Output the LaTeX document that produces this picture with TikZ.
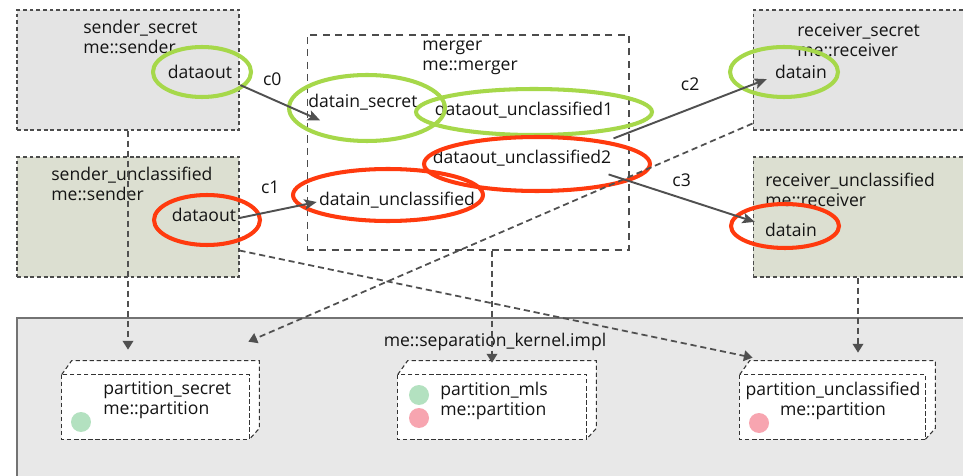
\documentclass[tikz,border=0pt]{standalone}
\usepackage{fontspec}
\setmainfont{Open Sans}
\usepackage{xcolor}
\usetikzlibrary{arrows.meta,calc,positioning,shapes.geometric}

\definecolor{secgray}{HTML}{E4E4E4}
\definecolor{uncgray}{HTML}{DCDFD1}
\definecolor{kerngray}{HTML}{E8E8E8}
\definecolor{wire}{HTML}{505050}
\definecolor{secgreen}{HTML}{A6D84A}
\definecolor{uncred}{HTML}{FF3A0E}
\definecolor{dotgreen}{HTML}{B3E1C0}
\definecolor{dotred}{HTML}{F7A5B0}

\tikzset{
  txt/.style={inner sep=0pt, font=\fontsize{10}{11.4}\selectfont, text=black!92, align=left},
  comp/.style={draw=black!70, dash pattern=on 2.2pt off 1.6pt, line width=0.6pt,
    minimum width=4.44cm, minimum height=2.4cm},
  ring/.style={ellipse, draw=#1, line width=2.3pt, inner sep=0pt},
  conn/.style={draw=wire, line width=1.1pt, -{Stealth[length=7pt,width=6pt,inset=1.5pt]}},
  bind/.style={draw=wire, line width=1pt, dash pattern=on 3.5pt off 2.2pt,
    -{Triangle[length=5pt,width=6pt]}},
  part/.style={minimum height=1.28cm, inner sep=0pt},
  partline/.style={draw=black!80, line width=0.6pt, dash pattern=on 2.4pt off 1.6pt},
  dot/.style={circle, inner sep=0pt, minimum size=0.4cm, fill=#1},
}

\begin{document}
\begin{tikzpicture}[x=0.02cm, y=-0.02cm]
  \path[use as bounding box, clip] (0,0) rectangle (963,476);

  % components
  \node[comp, fill=secgray] (ss) at (128,70) {};
  \node[comp, fill=uncgray] (su) at (128,217) {};
  \node[comp, fill=white, dash pattern=on 4pt off 3pt, minimum width=6.44cm, minimum height=4.3cm] (mrg) at (468,142.5) {};
  \node[comp, fill=secgray] (rs) at (864,70) {};
  \node[comp, fill=uncgray] (ru) at (864,217) {};

  \node[txt, anchor=west] (ss-l) at (83,37) {sender\_secret\\me::sender};
  \node[txt, anchor=west] (su-l) at (51,184) {sender\_unclassified\\me::sender};
  \node[txt, anchor=west] (mrg-l) at (422,58) {merger\\me::merger};
  \node[txt, anchor=west] (rs-l) at (797,40) {receiver\_secret\\me::receiver};
  \node[txt, anchor=west] (ru-l) at (765,190) {receiver\_unclassified\\me::receiver};

  % ports
  \node[txt] (ssout) at (200,72) {dataout};
  \node[txt] (suout) at (204,215) {dataout};
  \node[txt] (dsec) at (363,102) {datain\_secret};
  \node[txt] (dunc) at (397,200) {datain\_unclassified};
  \node[txt] (dou1) at (524,110) {dataout\_unclassified1};
  \node[txt] (dou2) at (522,158) {dataout\_unclassified2};
  \node[txt] (rsin) at (801,72) {datain};
  \node[txt] (ruin) at (791,230) {datain};

  \node[ring=secgreen, minimum width=1.96cm, minimum height=1.00cm] (r-ssout) at (202,72) {};
  \node[ring=uncred,   minimum width=2.12cm, minimum height=1.00cm] (r-suout) at (207,220) {};
  \node[ring=secgreen, minimum width=3.12cm, minimum height=1.32cm] (r-dsec) at (367,108) {};
  \node[ring=secgreen, minimum width=4.72cm, minimum height=0.92cm] (r-dou1) at (534,112) {};
  \node[ring=uncred,   minimum width=4.52cm, minimum height=1.08cm] (r-dou2) at (537,164) {};
  \node[ring=uncred,   minimum width=3.80cm, minimum height=1.04cm] (r-dunc) at (388,195) {};
  \node[ring=secgreen, minimum width=2.16cm, minimum height=1.00cm] (r-rsin) at (784,72) {};
  \node[ring=uncred,   minimum width=2.16cm, minimum height=0.88cm] (r-ruin) at (785,226) {};

  % connections
  \draw[conn] ([shift={(8,6)}]ssout.south east) -- node[txt, pos=0.4, above=7pt] (c0) {c0} ([shift={(12,10)}]dsec.south west);
  \draw[conn] ([shift={(3,3)}]suout.east) -- node[txt, pos=0.4, above=9.5pt] (c1) {c1} ([shift={(-2,2)}]dunc.west);
  \draw[conn] ([shift={(0,20)}]dou1.south east) -- node[txt, pos=0.5, above=10pt] (c2) {c2} ([shift={(-8,0)}]rsin.south west);
  \draw[conn] ([shift={(-3,8)}]dou2.south east) -- node[txt, pos=0.5, above=6pt] (c3) {c3} ([shift={(-10,-1)}]ruin.north west);

  % separation kernel
  \node[draw=black!55, line width=0.8pt, fill=kerngray, minimum width=19.16cm, minimum height=3.44cm] (krn) at (496,404) {};
  \node[txt] (krn-l) at (495,342) {me::separation\_kernel.impl};

  \node[part, minimum width=3.74cm] (ps) at (155.5,407) {};
  \node[part, minimum width=3.76cm] (pm) at (492,407) {};
  \node[part, minimum width=3.70cm] (pu) at (832.5,407) {};
  \foreach \p in {ps,pm,pu} {
    \fill[white] (\p.north west) -- ++(10,-14) -- ([shift={(10,-14)}]\p.north east)
      -- ([shift={(10,-11)}]\p.south east) -- (\p.south east) -- (\p.south west) -- cycle;
    \draw[partline] (\p.north west) -- ++(10,-14) -- ([shift={(10,-14)}]\p.north east)
      -- ([shift={(10,-11)}]\p.south east) -- (\p.south east);
    \draw[partline] (\p.north west) rectangle (\p.south east);
  }
  \node[txt, anchor=west] (ps-l) at (103,400.5) {partition\_secret\\me::partition};
  \node[txt, anchor=west] (pm-l) at (440,401) {partition\_mls\\me::partition};
  \node[txt, align=center] (pu-l) at (833,401) {partition\_unclassified\\me::partition};
  \node[dot=dotgreen] (ps-d) at (81,422) {};
  \node[dot=dotgreen] (pm-d1) at (419,395) {};
  \node[dot=dotred] (pm-d2) at (419,418) {};
  \node[dot=dotred] (pu-d) at (759,423) {};

  % bindings
  \draw[bind, shorten >=0.5cm] (ss.south) -- (ss.south |- ps.north);
  \draw[bind] ([shift={(0,-7)}]rs.south west) -- ([shift={(-1,-33)}]ps.north east);
  \draw[bind, shorten >=0.24cm] (mrg.south -| pm.north) -- (pm.north);
  \draw[bind] ([shift={(0,-27)}]su.south east) -- ([shift={(13,-17)}]pu.north west);
  \draw[bind] ($(ru.south)+(-6,0)$) -- ($(ru.south |- pu.north)+(-6,-22)$);

\end{tikzpicture}
\end{document}
